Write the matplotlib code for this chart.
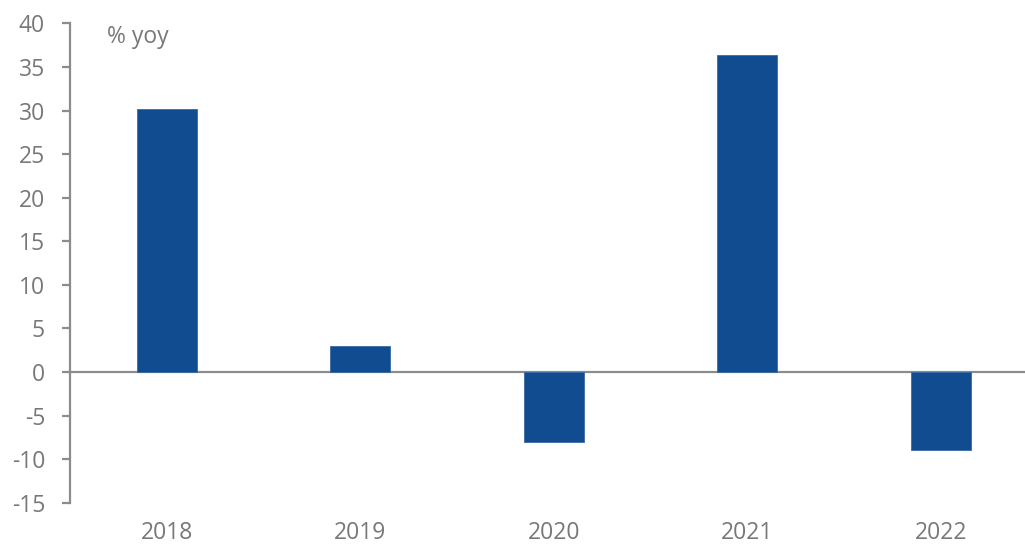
import numpy as np
import matplotlib.pyplot as plt

years = ["2018", "2019", "2020", "2021", "2022"]
growth = [30.2, 3.0, -8.0, 36.4, -8.9]
yticks = list(range(-15, 41, 5))

grey = "#787878"
plt.rcParams["font.family"] = ["Open Sans", "DejaVu Sans"]
plt.rcParams["axes.unicode_minus"] = False

fig = plt.figure(figsize=(10.25, 5.47), dpi=100)
ax = fig.add_axes([0.0683, 0.081, 0.944, 0.8763])

x = np.arange(len(years))
ax.bar(x, growth, width=0.31, color="#104c8f", edgecolor="#3a6aa8", linewidth=0.6, zorder=3)
ax.axhline(0, color="#8c8c8c", linewidth=1.6, zorder=2)

ax.set_xlim(-0.5, len(years) - 0.5)
ax.set_ylim(-15, 40)
ax.set_yticks(yticks)
ax.set_xticks(x)
ax.set_xticklabels(years)

for s in ["top", "right", "bottom"]:
    ax.spines[s].set_visible(False)
ax.spines["left"].set_color("#8c8c8c")
ax.spines["left"].set_linewidth(1.6)

ax.tick_params(axis="y", direction="out", length=6, width=1.6, color="#8c8c8c",
               labelsize=16.5, labelcolor=grey, pad=12)
ax.tick_params(axis="x", length=0, labelsize=16.5, labelcolor=grey, pad=13)

ax.text(-0.31, 38.4, "% yoy", fontsize=16.5, color=grey, ha="left", va="center")

fig.savefig("out.png", dpi=100)
